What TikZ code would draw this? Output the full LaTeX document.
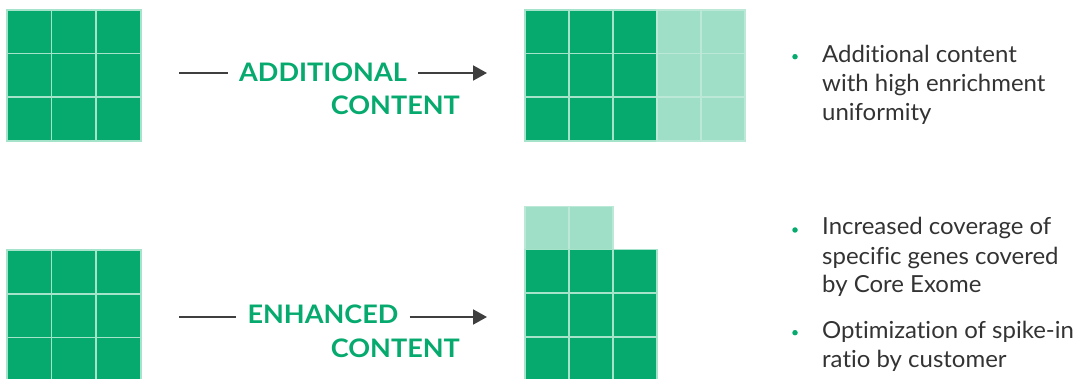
\documentclass[tikz,border=0pt]{standalone}
\usepackage{fontspec}
\setmainfont{Lato}
\newfontfamily\tagfont[FakeStretch=1.06, Ligatures=NoCommon]{Lato}
\newfontfamily\notefont[FakeStretch=1.02, Ligatures=NoCommon]{Lato}
\usetikzlibrary{arrows.meta}

\definecolor{exgreen}{HTML}{06AA6E}
\definecolor{exmint}{HTML}{9FDEC7}
\definecolor{exgrid}{HTML}{A6E3CB}
\definecolor{exink}{HTML}{333333}
\definecolor{exrule}{HTML}{3F3F3F}

\tikzset{
  cell/.style={fill=exgreen, draw=exgrid, line width=1.5pt},
  spare/.style={fill=exmint, draw=exmint!70!white, line width=1.5pt},
  tag/.style={font=\tagfont\bfseries\fontsize{25.5}{30}\selectfont, text=exgreen, inner sep=0pt},
  rule/.style={draw=exrule, line width=2pt},
  point/.style={circle, fill=exgreen, inner sep=0pt, minimum size=5.5pt},
  note/.style={font=\notefont\fontsize{23.5}{29}\selectfont, text=exink, align=left,
               anchor=base west, inner sep=0pt}
}

\begin{document}
\begin{tikzpicture}[x=1pt, y=-1pt, >=Stealth]
\useasboundingbox (0,0) rectangle (1076,379);

% core panels, left
\foreach \r in {0,1,2}
  \foreach \c in {0,1,2} {
    \draw[cell] (7+\c*44.6,10+\r*43.6) rectangle ++(44.6,43.6);
    \draw[cell] (7+\c*44.6,250+\r*43.8) rectangle ++(44.6,43.8);
  }

% core plus two extra columns
\foreach \r in {0,1,2} {
  \foreach \c in {0,1,2}
    \draw[cell] (525+\c*44,10+\r*43.6) rectangle ++(44,43.6);
  \foreach \c in {3,4}
    \draw[spare] (525+\c*44,10+\r*43.6) rectangle ++(44,43.6);
}

% core plus a partial extra row
\foreach \c in {0,1}
  \draw[spare] (525+\c*44,206.7) rectangle ++(44,42.6);
\foreach \r in {0,1,2}
  \foreach \c in {0,1,2}
    \draw[cell] (525+\c*44,249.3+\r*43.8) rectangle ++(44,43.8);

% labels and arrows
\coordinate (add-in) at (179,73);
\coordinate (add-out) at (487,73);
\node[tag] (add-top) at (323,72) {ADDITIONAL};
\node[tag, anchor=base east] (add-bot) at (460,115) {CONTENT};
\draw[rule] (add-in) -- ([xshift=-11pt]add-in -| add-top.west);
\draw[rule, -{Triangle[length=14pt,width=15pt]}] ([xshift=11pt]add-top.east |- add-out) -- (add-out);

\coordinate (enh-in) at (179,317);
\coordinate (enh-out) at (487,317);
\node[tag] (enh-top) at (323,314) {ENHANCED};
\node[tag, anchor=base east] (enh-bot) at (460,357) {CONTENT};
\draw[rule] (enh-in) -- ([xshift=-11pt]enh-in -| enh-top.west);
\draw[rule, -{Triangle[length=14pt,width=15pt]}] ([xshift=11pt]enh-top.east |- enh-out) -- (enh-out);

% bullet notes (base anchor sits on the last line)
\node[point] (dot1) at (795,56.7) {};
\node[note] (note1) at (822,120.7) {Additional content\\with high enrichment\\uniformity};
\node[point] (dot2) at (795,230) {};
\node[note] (note2) at (822,293) {Increased coverage of\\specific genes covered\\by Core Exome};
\node[point] (dot3) at (795,332.7) {};
\node[note] (note3) at (822,367) {Optimization of spike-in\\ratio by customer};
\end{tikzpicture}
\end{document}
